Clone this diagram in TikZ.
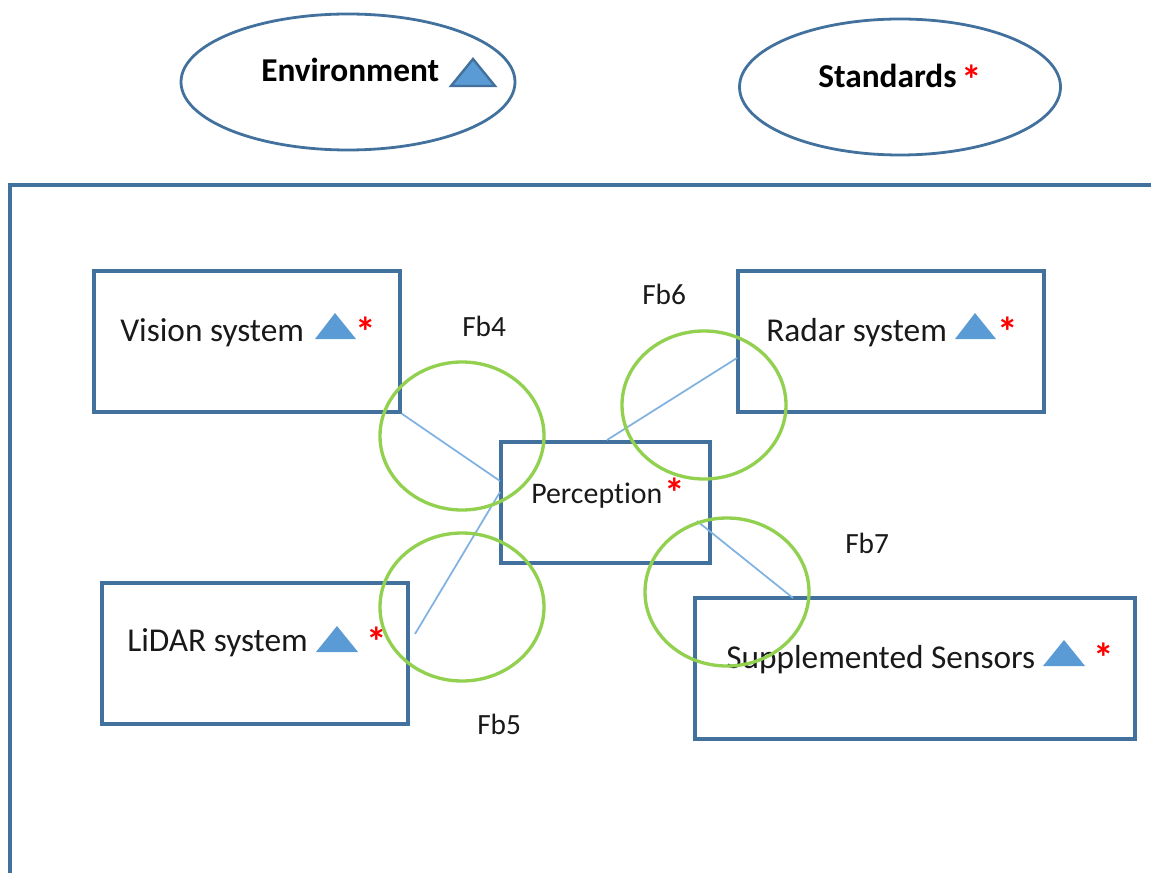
\documentclass[tikz,border=0pt]{standalone}
\usepackage{fontspec}
\setmainfont[Ligatures=CommonOff]{Carlito}
\usetikzlibrary{shapes.geometric}
\definecolor{frameblue}{HTML}{41719C}
\definecolor{linkblue}{HTML}{7FB2E0}
\definecolor{ringgreen}{HTML}{92D050}
\definecolor{trifill}{HTML}{5B9BD5}
\tikzset{
  x=0.75pt,y=-0.75pt,
  boxnode/.style={draw=frameblue,line width=2.3pt,rectangle,inner sep=0pt},
  topoval/.style={draw=frameblue,line width=2.1pt,ellipse,inner sep=0pt,minimum width=334*0.75pt,minimum height=136*0.75pt},
  ring/.style={draw=ringgreen,line width=2.5pt,ellipse,inner sep=0pt,minimum width=164*0.75pt,minimum height=148*0.75pt},
  link/.style={draw=linkblue,line width=1.3pt},
  txt/.style={anchor=base west,inner sep=0pt,text=black!90,font=\fontsize{25pt}{28pt}\selectfont},
  smalltxt/.style={anchor=base west,inner sep=0pt,text=black!90,font=\fontsize{22pt}{24pt}\selectfont},
  boldtxt/.style={anchor=base west,inner sep=0pt,text=black,font=\fontsize{25pt}{28pt}\selectfont\bfseries},
  star/.style={inner sep=0pt,text=red,font=\fontsize{31pt}{31pt}\selectfont\bfseries},
  tri/.style={fill=trifill,draw=none},
  tridark/.style={fill=trifill,draw=frameblue,line width=1.8pt}
}
\begin{document}
\begin{tikzpicture}
\useasboundingbox (0,0) rectangle (1151,873);
% frame
\coordinate (fa) at (10,873);
\coordinate (fb) at (10,185);
\coordinate (fc) at (1151,185);
\draw[draw=frameblue,line width=2.3pt] (fa) -- (fb) -- (fc);
% top ellipses
\node[topoval] (env) at (348,82) {};
\node[topoval,minimum width=321*0.75pt] (std) at (900,87) {};
\node[boldtxt] (envt) at (261,82) {Environment};
\node[boldtxt] (stdt) at (818,88) {Standards};
\node[star] (stds) at (972,80) {*};
\draw[tridark] (451,86) -- (473,59) -- (495,86) -- cycle;
% boxes
\node[boxnode,minimum width=306*0.75pt,minimum height=141*0.75pt] (vision) at (247,341.5) {};
\node[boxnode,minimum width=306*0.75pt,minimum height=141*0.75pt] (radar) at (891,341.5) {};
\node[boxnode,minimum width=209*0.75pt,minimum height=121*0.75pt] (perc) at (605.5,502.5) {};
\node[boxnode,minimum width=306*0.75pt,minimum height=141*0.75pt] (lidar) at (255,653.5) {};
\node[boxnode,minimum width=440*0.75pt,minimum height=141*0.75pt] (supp) at (915,668.5) {};
% connector end points
\coordinate (p1) at (500,481);
\coordinate (p2) at (500,492);
\coordinate (p3) at (607,440);
\coordinate (p4) at (697,521);
\coordinate (r1) at (737,358);
\coordinate (l1) at (415,634);
\coordinate (s1) at (793,598);
\draw[link] (vision.south east) -- (p1);
\draw[link] (l1) -- (p2);
\draw[link] (r1) -- (p3);
\draw[link] (p4) -- (s1);
% labels
\node[txt] (vt) at (120,341) {Vision system};
\node[txt] (rt) at (766,341) {Radar system};
\node[txt] (lt) at (127,651) {LiDAR system};
\node[txt] (st) at (726,668) {Supplemented Sensors};
\node[smalltxt,font=\fontsize{22.4pt}{25pt}\selectfont] (pt) at (531,503) {Perception};
\node[star] (vs) at (366,332) {*};
\node[star] (rs) at (1008,332) {*};
\node[star] (ls) at (377,642) {*};
\node[star] (ss) at (1104,658) {*};
\node[star] (ps) at (675,493) {*};
\fill[tri] (315,339) -- (335,313) -- (356,339) -- cycle;
\fill[tri] (955,339) -- (975,313) -- (996,339) -- cycle;
\fill[tri] (316,652) -- (337,626) -- (358,652) -- cycle;
\fill[tri] (1043,666) -- (1064,640) -- (1085,666) -- cycle;
% rings
\node[ring] (r4) at (462,436) {};
\node[ring] (r6) at (704,405) {};
\node[ring] (r5) at (462,607) {};
\node[ring] (r7) at (727,592) {};
\node[smalltxt] (f4) at (462,336) {Fb4};
\node[smalltxt] (f6) at (642,304) {Fb6};
\node[smalltxt] (f5) at (477,734) {Fb5};
\node[smalltxt] (f7) at (845,553) {Fb7};
\end{tikzpicture}
\end{document}
